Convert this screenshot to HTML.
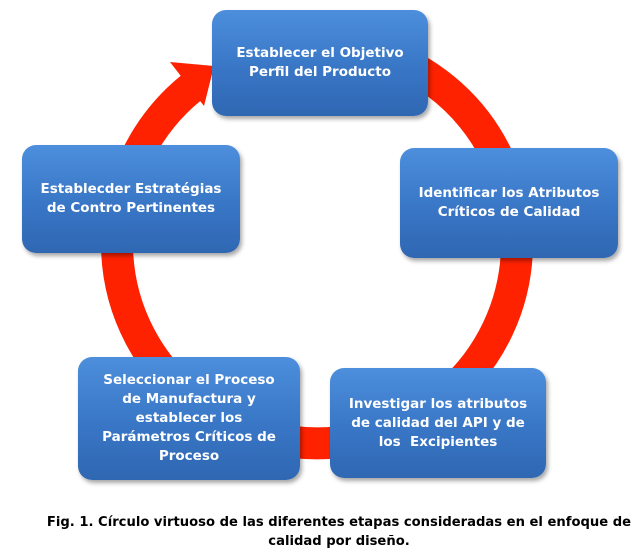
<!DOCTYPE html>
<html><head><meta charset="utf-8"><style>
body{margin:0;width:640px;height:560px;background:#fff;position:relative;overflow:hidden;font-family:"DejaVu Sans",sans-serif}
.b{position:absolute;border-radius:14px;background:linear-gradient(#4d8fdc,#3a78c8 50%,#2f67b2);box-shadow:2px 3px 4px rgba(0,0,0,.35);color:#fff;font-weight:bold;font-size:13.5px;line-height:19px;display:flex;align-items:center;justify-content:center;text-align:center}
.cap{position:absolute;left:19px;width:640px;top:513px;text-align:center;font-weight:bold;font-size:13.15px;line-height:19px;color:#000}
</style></head><body>
<svg width="640" height="560" style="position:absolute;left:0;top:0">
<path d="M191 88 A200 200 0 1 0 360 48" fill="none" stroke="#ff2200" stroke-width="32"/>
<polygon points="170,62 214,66 204,106" fill="#ff2200"/>
</svg>
<div class="b" style="left:212px;top:10px;width:216px;height:106px">Establecer el Objetivo<br>Perfil del Producto</div>
<div class="b" style="left:400px;top:148px;width:218px;height:110px">Identificar los Atributos<br>Críticos de Calidad</div>
<div class="b" style="left:330px;top:368px;width:216px;height:110px">Investigar los atributos<br>de calidad del API y de<br>los&nbsp; Excipientes</div>
<div class="b" style="left:78px;top:357px;width:222px;height:123px">Seleccionar el Proceso<br>de Manufactura y<br>establecer los<br>Parámetros Críticos de<br>Proceso</div>
<div class="b" style="left:22px;top:145px;width:218px;height:108px">Establecder Estratégias<br>de Contro Pertinentes</div>
<div class="cap">Fig. 1. Círculo virtuoso de las diferentes etapas consideradas en el enfoque de<br>calidad por diseño.</div>
</body></html>
